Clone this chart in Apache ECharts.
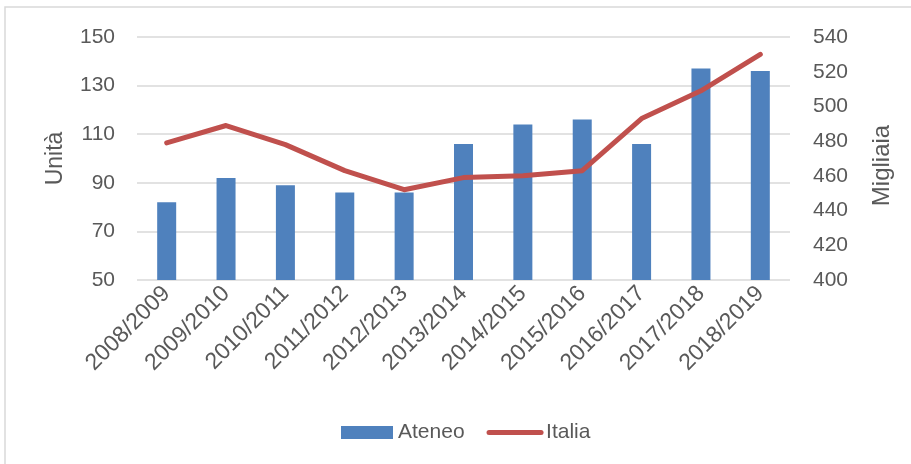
<!DOCTYPE html>
<html>
<head>
<meta charset="utf-8">
<script src="https://cdn.jsdelivr.net/npm/echarts@6/dist/echarts.min.js"></script>
<style>
    html, body { margin: 0; padding: 0; background: #fff; }
    #chart { width: 911px; height: 464px; }
</style>
</head>
<body>
<div id="chart"></div>
<script>
    var anni = ['2008/2009', '2009/2010', '2010/2011', '2011/2012', '2012/2013', '2013/2014',
                '2014/2015', '2015/2016', '2016/2017', '2017/2018', '2018/2019'];
    var ateneo = [82, 92, 89, 86, 86, 106, 114, 116, 106, 137, 136];
    var italia = [479, 489, 478, 463, 452, 459, 460, 463, 493, 509, 530];

    var font = 'Liberation Sans';
    var grigio = '#595959';
    var rosso = '#c0504d';

    var chart = echarts.init(document.getElementById('chart'));
    chart.setOption({
        animation: false,
        textStyle: { fontFamily: font },
        graphic: [{
            type: 'rect',
            shape: { x: 5, y: 7, width: 930, height: 480 },
            style: { fill: 'none', stroke: '#d9d9d9', lineWidth: 1.5 }
        }],
        legend: {
            bottom: 16,
            left: 336,
            itemWidth: 52,
            itemHeight: 13,
            itemGap: 22,
            textStyle: { fontSize: 21, color: grigio, fontFamily: font },
            data: [
                { name: 'Ateneo', icon: 'rect' },
                { name: 'Italia', itemStyle: { opacity: 0 }, lineStyle: { width: 5, cap: 'round', color: rosso } }
            ]
        },
        grid: {
            left: 137,
            right: 121,
            top: 37,
            bottom: 184
        },
        xAxis: {
            type: 'category',
            data: anni,
            axisTick: { show: false },
            axisLine: { show: false },
            axisLabel: {
                rotate: 45,
                interval: 0,
                color: grigio,
                fontSize: 23,
                margin: 10
            }
        },
        yAxis: [{
            type: 'value',
            min: 50,
            max: 150,
            interval: 20,
            name: 'Unità',
            nameLocation: 'middle',
            nameRotate: 90,
            nameGap: 70,
            nameTextStyle: { fontSize: 23, color: grigio },
            axisLabel: { color: grigio, fontSize: 21, margin: 22 },
            splitLine: { lineStyle: { color: '#d9d9d9', width: 1.5 } },
            axisLine: { show: false },
            axisTick: { show: false }
        }, {
            type: 'value',
            min: 400,
            max: 540,
            interval: 20,
            name: 'Migliaia',
            nameLocation: 'middle',
            nameRotate: 90,
            nameGap: 80,
            nameTextStyle: { fontSize: 24, color: grigio, padding: [0, 14, 0, 0] },
            axisLabel: { color: grigio, fontSize: 21, margin: 23 },
            splitLine: { show: false },
            axisLine: { show: false },
            axisTick: { show: false }
        }],
        series: [{
            name: 'Ateneo',
            type: 'bar',
            data: ateneo,
            barWidth: 19,
            itemStyle: { color: '#4f81bd' }
        }, {
            name: 'Italia',
            type: 'line',
            yAxisIndex: 1,
            data: italia,
            symbol: 'none',
            lineStyle: { color: rosso, width: 5, cap: 'round', join: 'round' },
            itemStyle: { color: rosso }
        }]
    });
</script>
</body>
</html>
